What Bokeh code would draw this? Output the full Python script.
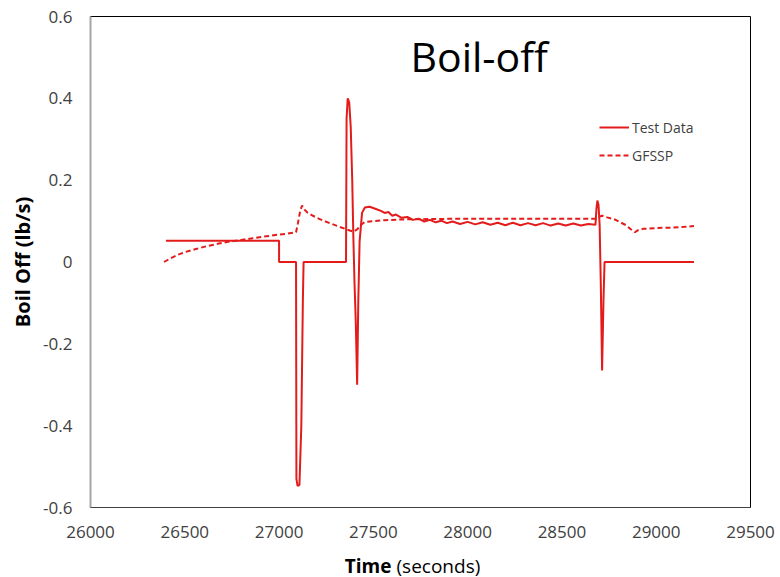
from bokeh.plotting import figure
from bokeh.layouts import column
from bokeh.models import (Range1d, FixedTicker, CustomJSTickFormatter, Label,
                          Legend, LegendItem)
from bokeh.embed import file_html
from bokeh.resources import INLINE

# ---------------- data ----------------
x_ticks = [26000, 26500, 27000, 27500, 28000, 28500, 29000, 29500]
y_ticks = [-0.6, -0.4, -0.2, 0, 0.2, 0.4, 0.6]

test_time = [26400, 27000, 27000, 27090, 27092, 27098, 27108, 27118, 27126, 27130,
             27355, 27358, 27364, 27372, 27380, 27388, 27394, 27400, 27407, 27414,
             27420, 27427, 27440, 27455, 27480, 27510, 27540, 27560, 27580, 27600,
             27620, 27650, 27680, 27710, 27740, 27770, 27800, 27830, 27860, 27890,
             27920, 27960, 28000, 28040, 28080, 28120, 28160, 28200, 28240, 28280,
             28320, 28360, 28400, 28440, 28480, 28520, 28560, 28600, 28640, 28678,
             28683, 28688, 28694, 28700, 28706, 28713, 28720, 28726, 29200]
test_vals = [0.052, 0.052, 0.0, 0.0, -0.53, -0.547, -0.545, -0.40, -0.10, 0.0,
             0.0, 0.35, 0.40, 0.39, 0.33, 0.20, 0.06, -0.05, -0.15, -0.30,
             -0.10, 0.05, 0.12, 0.133, 0.135, 0.130, 0.125, 0.120, 0.122, 0.113,
             0.116, 0.108, 0.110, 0.103, 0.106, 0.099, 0.103, 0.097, 0.101, 0.095,
             0.099, 0.093, 0.098, 0.092, 0.097, 0.091, 0.096, 0.090, 0.096, 0.090,
             0.095, 0.090, 0.095, 0.089, 0.094, 0.089, 0.094, 0.089, 0.093, 0.091,
             0.13, 0.15, 0.14, 0.09, -0.05, -0.265, -0.10, 0.0, 0.0]

gfssp_time = [26390, 26420, 26460, 26500, 26560, 26620, 26680, 26740, 26800, 26860,
              26920, 26980, 27040, 27090, 27100, 27112, 27122, 27135, 27150, 27180,
              27210, 27240, 27280, 27320, 27350, 27375, 27395, 27415, 27435, 27455,
              27500, 27560, 27650, 27800, 28000, 28200, 28400, 28600, 28680, 28700,
              28715, 28740, 28780, 28810, 28840, 28865, 28887, 28905, 28930, 29000,
              29080, 29150, 29200]
gfssp_vals = [0.0, 0.008, 0.017, 0.024, 0.032, 0.039, 0.045, 0.050, 0.054, 0.058,
              0.062, 0.066, 0.069, 0.073, 0.095, 0.125, 0.138, 0.128, 0.121, 0.113,
              0.106, 0.100, 0.093, 0.086, 0.081, 0.077, 0.074, 0.080, 0.091, 0.098,
              0.100, 0.102, 0.104, 0.105, 0.106, 0.106, 0.106, 0.106, 0.106, 0.111,
              0.113, 0.109, 0.104, 0.097, 0.090, 0.080, 0.073, 0.078, 0.081, 0.083,
              0.084, 0.086, 0.088]

RED = "#e31b1b"
FONT = "Open Sans"

p = figure(width=780, height=547, output_backend="svg", toolbar_location=None,
           x_range=Range1d(26000, 29500), y_range=Range1d(-0.6, 0.6),
           frame_width=660, frame_height=491,
           min_border_left=90, min_border_right=30, min_border_top=16,
           min_border_bottom=40)
p.outline_line_color = "black"
p.outline_line_width = 1
p.grid.visible = False
p.background_fill_color = "white"
p.border_fill_color = "white"

r1 = p.line(test_time, test_vals, line_color=RED, line_width=2)
r2 = p.line(gfssp_time, gfssp_vals, line_color=RED, line_width=2, line_dash="5 3")

for ax in (p.xaxis[0], p.yaxis[0]):
    ax.major_tick_line_color = None
    ax.minor_tick_line_color = None
    ax.major_label_text_font = FONT
    ax.major_label_text_font_size = "17px"
    ax.major_label_text_color = "#404040"

p.xaxis.ticker = FixedTicker(ticks=x_ticks)
p.yaxis.ticker = FixedTicker(ticks=y_ticks)
p.yaxis.formatter = CustomJSTickFormatter(code="return tick.toFixed(1).replace(/\\.0$/, '');")
p.xaxis.axis_line_color = "#404040"
p.yaxis.axis_line_color = "#a6a6a6"
p.yaxis.axis_line_width = 2
p.xaxis.major_label_standoff = 12
p.yaxis.major_label_standoff = 12

p.yaxis.axis_label = "Boil Off (lb/s)"
p.yaxis.axis_label_text_font = FONT
p.yaxis.axis_label_text_font_style = "bold"
p.yaxis.axis_label_text_font_size = "20px"
p.yaxis.axis_label_text_color = "black"
p.yaxis.axis_label_standoff = 4

p.add_layout(Label(x=320, y=452, x_units="screen", y_units="screen", text="Boil-off",
                   text_font=FONT, text_font_size="41px",
                   text_align="left", text_baseline="alphabetic", text_color="black"))

legend = Legend(items=[LegendItem(label="Test Data", renderers=[r1]),
                       LegendItem(label="GFSSP", renderers=[r2])],
                location=(509, 342), glyph_width=30, glyph_height=20,
                spacing=8, padding=0, margin=0, label_standoff=3,
                label_text_font=FONT, label_text_font_size="14px",
                label_text_color="#404040", border_line_color=None,
                background_fill_alpha=0)
p.add_layout(legend)

# x-axis title strip (bold "Time" + regular "(seconds)")
p2 = figure(width=780, height=30, output_backend="svg", toolbar_location=None,
            x_range=Range1d(0, 780), y_range=Range1d(0, 30),
            min_border=0, x_axis_type=None, y_axis_type=None)
p2.outline_line_color = None
p2.grid.visible = False
p2.background_fill_color = "white"
p2.border_fill_color = "white"
p2.add_layout(Label(x=301, y=12, x_units="screen", y_units="screen", text="Time",
                    text_font=FONT, text_font_size="19px", text_font_style="bold",
                    text_align="right", text_baseline="alphabetic", text_color="black"))
p2.add_layout(Label(x=306, y=12, x_units="screen", y_units="screen", text="(seconds)",
                    text_font=FONT, text_font_size="19px",
                    text_align="left", text_baseline="alphabetic", text_color="black"))

open("out.html", "w").write(file_html(column(p, p2, spacing=0), INLINE))
